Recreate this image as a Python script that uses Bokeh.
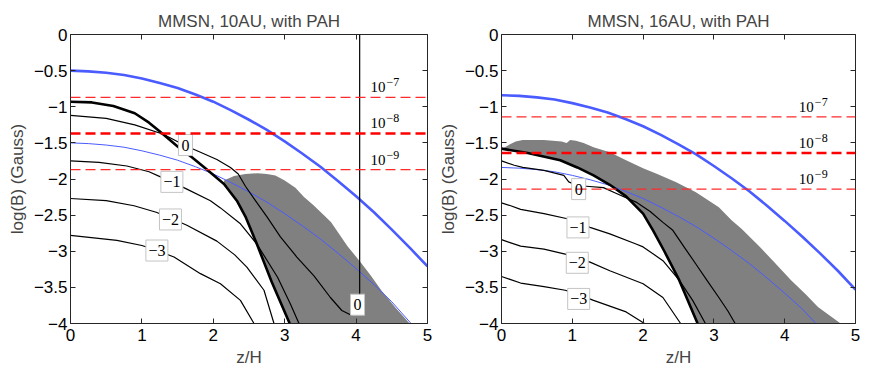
from bokeh.plotting import figure
from bokeh.models import (Range1d, LinearAxis, Span, LabelSet, ColumnDataSource,
                          CustomJSTickFormatter, FixedTicker)
from bokeh.layouts import row
from bokeh.embed import file_html
from bokeh.resources import INLINE

FONT = "'Liberation Sans', Arial, Helvetica, sans-serif"

# ---------------- data: left panel (10 AU) ----------------
L_title = "MMSN, 10AU, with PAH"
L_blue_thick_x = [0, 0.25, 0.5, 0.75, 1, 1.25, 1.5, 1.75, 2, 2.25, 2.5, 2.75, 3, 3.25, 3.5, 3.75, 4, 4.25, 4.5, 4.75, 5]
L_blue_thick_y = [-0.50, -0.51, -0.53, -0.56, -0.61, -0.67, -0.74, -0.83, -0.93, -1.05, -1.18, -1.32, -1.48, -1.65, -1.83, -2.03, -2.24, -2.46, -2.70, -2.95, -3.21]
L_blue_thin_x = [0, 0.25, 0.5, 0.75, 1, 1.25, 1.5, 1.75, 2, 2.25, 2.5, 2.75, 3, 3.25, 3.5, 3.75, 4, 4.25, 4.5, 4.77]
L_blue_thin_y = [-1.50, -1.51, -1.53, -1.56, -1.61, -1.67, -1.74, -1.83, -1.93, -2.05, -2.18, -2.32, -2.48, -2.65, -2.83, -3.03, -3.24, -3.46, -3.70, -4.00]
L_thick_x = [0, 0.3, 0.6, 0.9, 1.1, 1.26, 1.5, 1.7, 1.91, 2.15, 2.33, 2.45, 2.61, 2.82, 3.07]
L_thick_y = [-0.93, -0.94, -0.99, -1.09, -1.22, -1.35, -1.55, -1.70, -1.87, -2.07, -2.30, -2.52, -2.90, -3.43, -4.00]
L_c0_x = [0, 0.5, 0.9, 1.3, 1.61, 1.82, 2.05, 2.24, 2.35, 2.45, 2.59, 2.75, 2.94, 3.17, 3.41, 3.64, 3.8, 3.92, 3.98, 4.03, 4.05, 4.05]
L_c0_y = [-1.12, -1.16, -1.25, -1.38, -1.54, -1.63, -1.73, -1.84, -1.93, -2.10, -2.30, -2.52, -2.80, -3.08, -3.34, -3.64, -3.82, -3.88, -3.87, -3.80, -3.58, 0.0]
L_c1_x = [0, 0.4, 0.79, 1.1, 1.26, 1.42, 1.63, 1.96, 2.1, 2.38, 2.61, 2.9, 3.08, 3.2]
L_c1_y = [-1.75, -1.77, -1.82, -1.90, -1.97, -2.04, -2.14, -2.30, -2.40, -2.62, -2.90, -3.36, -3.73, -4.00]
L_c2_x = [0, 0.5, 0.89, 1.2, 1.4, 1.63, 2.05, 2.3, 2.47, 2.71, 2.85]
L_c2_y = [-2.27, -2.30, -2.37, -2.46, -2.54, -2.64, -2.86, -3.05, -3.22, -3.54, -4.00]
L_c3_x = [0, 0.65, 1.0, 1.21, 1.45, 1.82, 2.1, 2.38, 2.57]
L_c3_y = [-2.78, -2.85, -2.92, -2.99, -3.08, -3.31, -3.45, -3.68, -4.00]
L_gray_x = [2.15, 2.29, 2.45, 2.62, 2.75, 2.87, 3.0, 3.15, 3.27, 3.4, 3.55, 3.65, 3.88, 4.06, 4.2, 4.36, 4.55, 4.75]
L_gray_y = [-2.02, -1.96, -1.93, -1.92, -1.93, -1.95, -2.02, -2.12, -2.25, -2.36, -2.50, -2.60, -2.93, -3.15, -3.33, -3.55, -3.78, -4.00]
L_gray_from = 2.15          # gray region is bounded by the thick line from here on
L_red_y = [-0.87, -1.37, -1.87]
L_lab_x = [1.61, 1.42, 1.40, 1.21, 4.02]
L_lab_y = [-1.53, -2.04, -2.56, -2.99, -3.74]
L_lab_t = ["0", "\u22121", "\u22122", "\u22123", "0"]

# ---------------- data: right panel (16 AU) ----------------
R_title = "MMSN, 16AU, with PAH"
R_blue_thick_x = [0, 0.25, 0.5, 0.75, 1, 1.25, 1.5, 1.75, 2, 2.25, 2.5, 2.75, 3, 3.25, 3.5, 3.75, 4, 4.25, 4.5, 4.75, 5]
R_blue_thick_y = [-0.84, -0.85, -0.87, -0.90, -0.95, -1.01, -1.08, -1.17, -1.27, -1.39, -1.52, -1.66, -1.82, -1.99, -2.17, -2.37, -2.58, -2.80, -3.03, -3.27, -3.53]
R_blue_thin_x = [0, 0.25, 0.5, 0.75, 1, 1.25, 1.5, 1.75, 2, 2.25, 2.5, 2.75, 3, 3.25, 3.5, 3.75, 4, 4.25, 4.44]
R_blue_thin_y = [-1.84, -1.85, -1.87, -1.90, -1.95, -2.01, -2.08, -2.17, -2.27, -2.39, -2.52, -2.66, -2.82, -2.99, -3.17, -3.37, -3.58, -3.80, -4.00]
R_thick_x = [0, 0.37, 0.83, 1.07, 1.3, 1.53, 1.76, 2.0, 2.14, 2.3, 2.51, 2.77]
R_thick_y = [-1.58, -1.64, -1.74, -1.84, -1.95, -2.08, -2.24, -2.48, -2.71, -3.00, -3.40, -4.00]
R_c0_x = [0, 0.18, 0.3, 0.6, 0.88, 0.95, 1.09, 1.2, 1.44, 1.6, 1.9, 2.1, 2.28, 2.42, 2.6, 2.74, 2.9, 3.07, 3.2, 3.3]
R_c0_y = [-1.75, -1.81, -1.84, -1.88, -1.95, -2.04, -2.10, -2.10, -2.12, -2.19, -2.32, -2.45, -2.60, -2.71, -2.97, -3.17, -3.40, -3.64, -3.83, -4.00]
R_c1_x = [0, 0.13, 0.27, 0.6, 0.93, 1.08, 1.25, 1.53, 1.9, 2.0, 2.28, 2.51, 2.7, 2.88]
R_c1_y = [-2.33, -2.37, -2.42, -2.48, -2.55, -2.60, -2.67, -2.76, -2.90, -2.94, -3.13, -3.40, -3.68, -4.00]
R_c2_x = [0, 0.12, 0.27, 0.6, 0.9, 1.07, 1.25, 1.53, 2.0, 2.28, 2.53]
R_c2_y = [-2.84, -2.88, -2.93, -2.97, -3.04, -3.10, -3.15, -3.27, -3.45, -3.64, -4.00]
R_c3_x = [0, 0.12, 0.27, 0.6, 0.9, 1.09, 1.3, 1.76, 2.02]
R_c3_y = [-3.35, -3.39, -3.44, -3.49, -3.54, -3.60, -3.68, -3.84, -4.00]
R_gray_x = [0.03, 0.12, 0.2, 0.3, 0.6, 0.85, 0.92, 0.97, 1.05, 1.16, 1.3, 1.53, 1.76, 2.0, 2.2, 2.46, 2.74, 2.93, 3.07, 3.25, 3.39, 3.65, 3.85, 4.09, 4.3, 4.47, 4.79]
R_gray_y = [-1.57, -1.52, -1.48, -1.46, -1.46, -1.48, -1.50, -1.46, -1.47, -1.50, -1.56, -1.63, -1.74, -1.85, -1.93, -2.04, -2.18, -2.30, -2.39, -2.57, -2.69, -2.94, -3.15, -3.40, -3.60, -3.77, -4.00]
R_gray_from = 0.0
R_red_y = [-1.14, -1.64, -2.14]
R_lab_x = [1.09, 1.08, 1.07, 1.09]
R_lab_y = [-2.14, -2.67, -3.16, -3.66]
R_lab_t = ["0", "\u22121", "\u22122", "\u22123"]

# shared
red_exp = ["\u22127", "\u22128", "\u22129"]
x_ticks = [0, 1, 2, 3, 4, 5]
y_ticks = [-4, -3.5, -3, -2.5, -2, -1.5, -1, -0.5, 0]

BLUE = "#4a5bff"
AXC = "#262626"
minus_fmt = "return (tick < 0 ? '\\u2212' : '') + Math.abs(tick).toString();"


def style_axis(ax, ticks, show_labels, label_standoff):
    ax.ticker = FixedTicker(ticks=ticks)
    ax.formatter = CustomJSTickFormatter(code=minus_fmt)
    ax.major_tick_in = 5
    ax.major_tick_out = 0
    ax.minor_tick_line_color = None
    ax.axis_line_color = AXC
    ax.major_tick_line_color = AXC
    ax.major_label_text_font = FONT
    ax.major_label_standoff = label_standoff
    if show_labels:
        ax.major_label_text_font_size = "17px"
        ax.major_label_text_color = "black"
    else:
        ax.major_label_text_font_size = "1px"
        ax.major_label_text_color = None
        ax.major_label_standoff = 0


def panel(title, bl, br, w, d):
    p = figure(width=w, height=373, output_backend="svg", toolbar_location=None,
               x_range=Range1d(0, 5), y_range=Range1d(-4, 0),
               min_border_left=bl, min_border_right=br,
               min_border_top=34, min_border_bottom=50)
    p.title.text = title
    p.title.align = "center"
    p.title.text_font = FONT
    p.title.text_font_size = "17px"
    p.title.text_font_style = "normal"
    p.title.standoff = 8
    p.xgrid.grid_line_color = None
    p.ygrid.grid_line_color = None
    p.outline_line_color = None
    p.background_fill_color = "white"

    style_axis(p.xaxis[0], x_ticks, True, 5)
    style_axis(p.yaxis[0], y_ticks, True, 3)
    p.xaxis.axis_label = "z/H"
    p.yaxis.axis_label = "log(B) (Gauss)"
    for ax in (p.xaxis[0], p.yaxis[0]):
        ax.axis_label_text_font = FONT
        ax.axis_label_text_font_size = "17px"
        ax.axis_label_text_font_style = "normal"
        ax.axis_label_standoff = 4
    ra = LinearAxis()
    style_axis(ra, y_ticks, False, 0)
    p.add_layout(ra, "right")
    ta = LinearAxis()
    style_axis(ta, x_ticks, False, 0)
    p.add_layout(ta, "above")

    # gray region: upper boundary then back along the thick line
    tx, ty = d["thick"]
    back = [(x, y) for x, y in zip(tx, ty) if x >= d["gray_from"]][::-1]
    gx = list(d["gray"][0]) + [b[0] for b in back]
    gy = list(d["gray"][1]) + [b[1] for b in back]
    p.patch(gx, gy, fill_color="#808080", line_color=None)

    # blue lines
    p.line(*d["blue_thin"], line_color=BLUE, line_width=1)
    p.line(*d["blue_thick"], line_color=BLUE, line_width=2.6)
    # contours
    for c in d["contours"]:
        p.line(*c, line_color="black", line_width=1.2, line_join="round")
    p.line(tx, ty, line_color="black", line_width=2.6, line_join="round")

    # red dashed lines
    for i, v in enumerate(d["red"]):
        if i == 1:
            s = Span(location=v, dimension="width", line_color="#ff0000",
                     line_width=2.6, line_dash="10 5")
        else:
            s = Span(location=v, dimension="width", line_color="#ff2a2a",
                     line_width=1.3, line_dash="10 5")
        p.add_layout(s)

    # 10^-n labels
    lx = [4.2] * len(d["red"])
    src = ColumnDataSource(dict(x=lx, y=d["red"], t=["10"] * len(d["red"]), e=red_exp))
    p.add_layout(LabelSet(x="x", y="y", text="t", source=src, y_offset=5,
                          text_font=FONT, text_font_size="15px", text_color="black",
                          text_align="left", text_baseline="alphabetic"))
    p.add_layout(LabelSet(x="x", y="y", text="e", source=src, y_offset=11, x_offset=16,
                          text_font=FONT, text_font_size="12px", text_color="black",
                          text_align="left", text_baseline="alphabetic"))

    # contour labels: boxed
    lxs, lys, lts = d["lab"]
    bw = [6 + 8 * len(t) for t in lts]
    csrc = ColumnDataSource(dict(x=lxs, y=lys, t=lts, w=bw))
    p.rect(x="x", y="y", width="w", height=21, width_units="screen", height_units="screen",
           source=csrc, fill_color="white", line_color="#c4c4c4", line_width=1)
    p.add_layout(LabelSet(x="x", y="y", text="t", source=csrc, y_offset=0,
                          text_font=FONT, text_font_size="16px", text_color="black",
                          text_align="center", text_baseline="middle"))
    return p


dL = dict(thick=(L_thick_x, L_thick_y), gray=(L_gray_x, L_gray_y), gray_from=L_gray_from,
          blue_thin=(L_blue_thin_x, L_blue_thin_y), blue_thick=(L_blue_thick_x, L_blue_thick_y),
          contours=[(L_c0_x, L_c0_y), (L_c1_x, L_c1_y), (L_c2_x, L_c2_y), (L_c3_x, L_c3_y)],
          red=L_red_y, lab=(L_lab_x, L_lab_y, L_lab_t))
dR = dict(thick=(R_thick_x, R_thick_y), gray=(R_gray_x, R_gray_y), gray_from=R_gray_from,
          blue_thin=(R_blue_thin_x, R_blue_thin_y), blue_thick=(R_blue_thick_x, R_blue_thick_y),
          contours=[(R_c0_x, R_c0_y), (R_c1_x, R_c1_y), (R_c2_x, R_c2_y), (R_c3_x, R_c3_y)],
          red=R_red_y, lab=(R_lab_x, R_lab_y, R_lab_t))

pL = panel(L_title, 70, 8, 435, dL)
pR = panel(R_title, 62, 9, 429, dR)
layout = row(pL, pR)

open("out.html", "w").write(file_html(layout, INLINE))
